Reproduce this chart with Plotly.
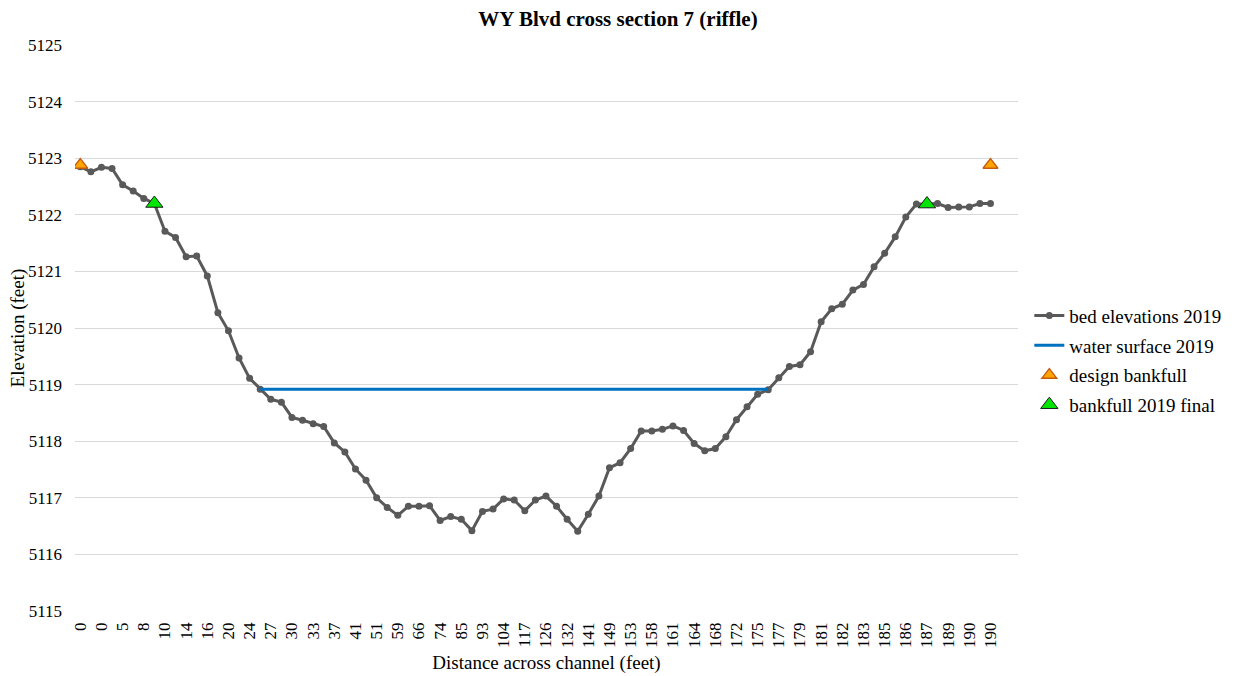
import plotly.graph_objects as go

# bed survey points (one per category along the section)
bed_elev = [
    5122.85, 5122.76, 5122.84, 5122.82, 5122.53, 5122.42, 5122.29, 5122.20, 5121.71, 5121.60,
    5121.26, 5121.27, 5120.92, 5120.27, 5119.95, 5119.47, 5119.11, 5118.92, 5118.74, 5118.69,
    5118.42, 5118.37, 5118.31, 5118.26, 5117.97, 5117.81, 5117.51, 5117.31, 5117.00, 5116.83,
    5116.69, 5116.85, 5116.85, 5116.86, 5116.60, 5116.67, 5116.62, 5116.42, 5116.76, 5116.80,
    5116.98, 5116.96, 5116.77, 5116.96, 5117.03, 5116.85, 5116.62, 5116.41, 5116.71, 5117.03,
    5117.53, 5117.62, 5117.87, 5118.18, 5118.18, 5118.21, 5118.27, 5118.19, 5117.96, 5117.83,
    5117.87, 5118.08, 5118.38, 5118.61, 5118.83, 5118.91, 5119.12, 5119.32, 5119.35, 5119.58,
    5120.11, 5120.34, 5120.42, 5120.67, 5120.77, 5121.08, 5121.32, 5121.61, 5121.96, 5122.19,
    5122.19, 5122.20, 5122.13, 5122.14, 5122.14, 5122.20, 5122.20,
]

# distance labels shown on the axis (Excel shows every second category)
tick_labels = [
    "0", "0", "5", "8", "10", "14", "16", "20", "24", "27", "30", "33", "37", "41", "51",
    "59", "66", "74", "85", "93", "104", "117", "126", "132", "141", "149", "153", "158", "161",
    "164", "168", "172", "175", "177", "179", "181", "182", "183", "185", "186", "187", "189",
    "190", "190",
]

water_surface = 5118.92
water_start, water_end = 17, 65

design_idx = [0, 86]
design_elev = [5122.88, 5122.88]
bankfull_idx = [7, 80]
bankfull_elev = [5122.20, 5122.19]

idx = list(range(len(bed_elev)))
water_x = idx[water_start:water_end + 1]
water_y = [water_surface] * len(water_x)

font = "Liberation Serif, Times New Roman, serif"

fig = go.Figure()
fig.add_trace(go.Scatter(x=idx, y=bed_elev, mode="lines+markers",
                         name="bed elevations 2019", legendgroup="a",
                         line=dict(color="#595959", width=3),
                         marker=dict(color="#595959", size=7)))
fig.add_trace(go.Scatter(x=water_x, y=water_y, mode="lines",
                         name="water surface 2019", legendgroup="b",
                         line=dict(color="#0070C0", width=3)))
fig.add_trace(go.Scatter(x=design_idx, y=design_elev, mode="markers",
                         name="design bankfull", legendgroup="c",
                         marker=dict(symbol="triangle-up", size=13, color="#FFA500",
                                     line=dict(color="#C55A11", width=1.3))))
fig.add_trace(go.Scatter(x=bankfull_idx, y=bankfull_elev, mode="markers",
                         name="bankfull 2019 final", legendgroup="d",
                         marker=dict(symbol="triangle-up", size=15, color="#00E600",
                                     line=dict(color="#1a1a1a", width=1))))

fig.update_layout(
    width=1236, height=676,
    paper_bgcolor="white", plot_bgcolor="white",
    margin=dict(l=67, r=226, t=37, b=73),
    font=dict(family=font, color="#000000", size=17),
    title=dict(text="<b>WY Blvd cross section 7 (riffle)</b>", x=0.4935, xanchor="center",
               xref="container", yref="container", y=0.984, yanchor="middle",
               font=dict(size=21, family=font, color="#000000")),
    legend=dict(x=1.012, xanchor="left", y=0.443, yanchor="middle",
                font=dict(size=19, family=font), tracegroupgap=2,
                itemwidth=30, bgcolor="rgba(0,0,0,0)"),
    showlegend=True,
)
fig.add_annotation(text="Elevation (feet)", textangle=-90, showarrow=False,
                   xref="paper", yref="paper", x=-0.06, y=0.5,
                   xanchor="center", yanchor="middle",
                   font=dict(size=19, family=font, color="#000000"))
fig.update_xaxes(
    range=[-0.5, 88.6], tickmode="array",
    tickvals=idx[::2], ticktext=tick_labels, tickangle=-90,
    showgrid=False, zeroline=False, showline=False, ticks="",
    ticklabelstandoff=7, automargin=False,
    tickfont=dict(size=17, family=font),
    title=dict(text="Distance across channel (feet)", font=dict(size=19, family=font), standoff=8),
)
fig.update_yaxes(
    range=[5115, 5125], dtick=1, tickformat="d",
    showgrid=True, gridcolor="#d9d9d9", gridwidth=1, zeroline=False,
    showline=False, ticks="", ticklabelstandoff=12, automargin=False,
    tickfont=dict(size=17, family=font),
)

fig.write_html("out.html")
